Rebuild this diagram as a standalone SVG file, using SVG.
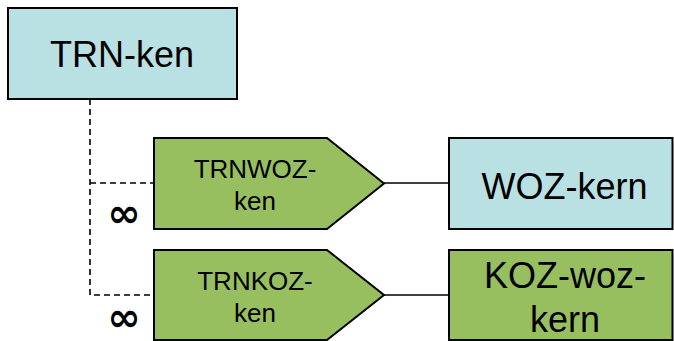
<svg xmlns="http://www.w3.org/2000/svg" width="674" height="341" viewBox="0 0 674 341">
<style>
.blue{fill:#b9e0e3;stroke:#000;stroke-width:2}
.green{fill:#97bf5f;stroke:#000;stroke-width:2}
.big{font-family:"Liberation Sans",Arial,sans-serif;font-size:36px;fill:#000;text-anchor:middle}
.small{font-family:"Liberation Sans",Arial,sans-serif;font-size:26px;fill:#000;text-anchor:middle}
.inf{font-family:"DejaVu Sans",sans-serif;font-size:40px;font-weight:bold;fill:#000;text-anchor:middle}
.dash{fill:none;stroke:#000;stroke-width:1.6;stroke-dasharray:6 4}
.solid{fill:none;stroke:#000;stroke-width:1.6}
</style>
<g id="connectors">
<path class="dash" d="M90,99 V295 H154"/>
<path class="dash" d="M90,183 H154"/>
<path class="solid" d="M384,183 H449"/>
<path class="solid" d="M384,295 H449"/>
<text class="inf" x="124" y="227">∞</text>
<text class="inf" x="124" y="331">∞</text>
</g>
<g id="trn-ken">
<rect class="blue" x="8" y="8" width="229" height="91"/>
<text class="big" x="122" y="67">TRN-ken</text>
</g>
<g id="trnwoz-ken">
<path class="green" d="M154,138 H327 L384,183.5 L327,229 H154 Z"/>
<text class="small" x="255" y="177.5">TRNWOZ-</text>
<text class="small" x="255" y="209.5">ken</text>
</g>
<g id="trnkoz-ken">
<path class="green" d="M154,250 H327 L384,295 L327,340 H154 Z"/>
<text class="small" x="255" y="290">TRNKOZ-</text>
<text class="small" x="255" y="321.5">ken</text>
</g>
<g id="woz-kern">
<rect class="blue" x="449" y="138" width="223.5" height="91"/>
<text class="big" x="564.5" y="198.5">WOZ-kern</text>
</g>
<g id="koz-woz-kern">
<rect class="green" x="449" y="250" width="223.5" height="90"/>
<text class="big" x="565" y="287.5">KOZ-woz-</text>
<text class="big" x="565" y="331.5">kern</text>
</g>
</svg>
